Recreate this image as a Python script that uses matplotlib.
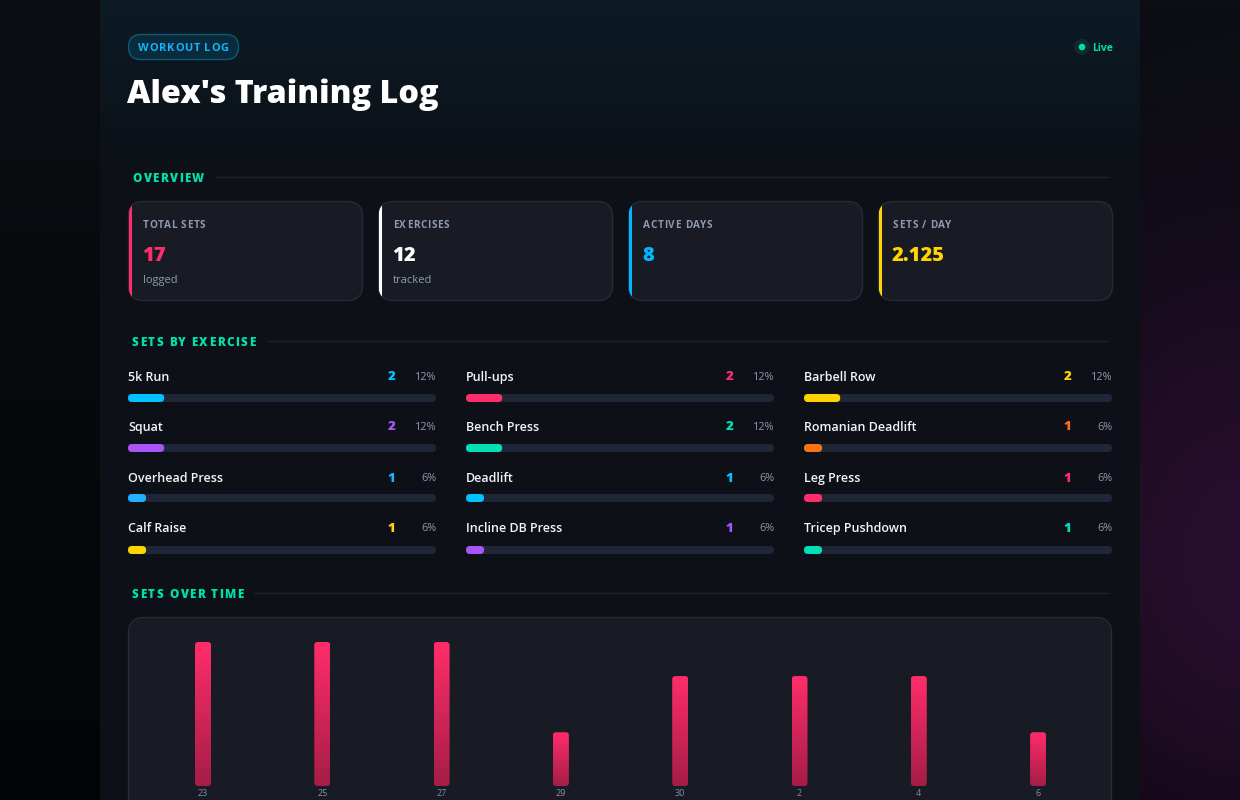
import numpy as np
import matplotlib
matplotlib.use("Agg")
import matplotlib.pyplot as plt
from matplotlib.patches import FancyBboxPatch, Circle
from matplotlib.colors import LinearSegmentedColormap, to_rgb
from matplotlib.font_manager import FontProperties

# ---------------- data ----------------
title = "Alex's Training Log"
badge = "WORKOUT LOG"
live_label = "Live"
section_titles = ["OVERVIEW", "SETS BY EXERCISE", "SETS OVER TIME"]

stat_labels = ["TOTAL SETS", "EXERCISES", "ACTIVE DAYS", "SETS / DAY"]
stat_values = ["17", "12", "8", "2.125"]
stat_subs = ["logged", "tracked", "", ""]
stat_colors = ["#ff2d6b", "#ffffff", "#00b8ff", "#ffd400"]

exercises = ["5k Run", "Pull-ups", "Barbell Row", "Squat", "Bench Press",
             "Romanian Deadlift", "Overhead Press", "Deadlift", "Leg Press",
             "Calf Raise", "Incline DB Press", "Tricep Pushdown"]
exercise_sets = [2, 2, 2, 2, 2, 1, 1, 1, 1, 1, 1, 1]
exercise_colors = ["#00c2ff", "#ff2d6b", "#ffd400", "#a855f7", "#00e0b8",
                   "#f97316", "#22b0ff", "#00c2ff", "#ff2d6b", "#ffd400",
                   "#a855f7", "#00e0b8"]

days = ["23", "25", "27", "29", "30", "2", "4", "6"]
day_sets = [3, 3, 3, 1.12, 2.29, 2.29, 2.29, 1.12]

# ---------------- setup ----------------
W, H = 1240, 800
DPI = 100
FAM = ["Open Sans", "DejaVu Sans"]
plt.rcParams["font.family"] = FAM

fig = plt.figure(figsize=(W / DPI, H / DPI), dpi=DPI)
fig.patch.set_facecolor("#06070b")

# background image
bg = fig.add_axes([0, 0, 1, 1])
bg.set_axis_off()
yy, xx = np.mgrid[0:H, 0:W].astype(float)
img = np.zeros((H, W, 3))
base_top = np.array(to_rgb("#0b0e13"))
base_bot = np.array(to_rgb("#030405"))
t = (yy / H)[..., None]
img[:] = base_top * (1 - t) + base_bot * t
glow = np.exp(-(((xx - 1250) / 260) ** 2 + ((yy - 560) / 330) ** 2))[..., None]
img = img + glow * (np.array(to_rgb("#2a0f30")) - img) * 0.95
panel = (xx >= 100) & (xx < 1140)
ptop = np.array(to_rgb("#0c1b25"))
pbot = np.array(to_rgb("#0d1017"))
pt = np.clip(yy / 170, 0, 1)[..., None]
pcol = ptop * (1 - pt) + pbot * pt
img[panel] = pcol[panel]
bg.imshow(img, extent=(0, W, H, 0), aspect="auto", interpolation="bilinear")
bg.set_xlim(0, W)
bg.set_ylim(H, 0)

ov = fig.add_axes([0, 0, 1, 1])
ov.set_xlim(0, W)
ov.set_ylim(H, 0)
ov.set_axis_off()
ov.patch.set_alpha(0)

renderer = fig.canvas.get_renderer()
DY = 1.5  # vertical text correction


def text_width(s, size, weight="normal"):
    fp = FontProperties(family=FAM, size=size, weight=weight)
    w, h, d = renderer.get_text_width_height_descent(s, fp, ismath=False)
    return w


def spaced(ax, x, y, s, size, color, weight="bold", spacing=1.5):
    for i, ch in enumerate(s):
        off = text_width(s[:i], size, weight) + i * spacing if i else 0
        ax.text(x + off, y + DY, ch, fontsize=size, color=color, weight=weight,
                va="center", ha="left", zorder=5)
    return x + text_width(s, size, weight) + (len(s) - 1) * spacing


def rbox(ax, x, y, w, h, r, fc, ec="none", lw=1, z=2):
    p = FancyBboxPatch((x, y), w, h, boxstyle=f"round,pad=0,rounding_size={r}",
                       fc=fc, ec=ec, lw=lw, zorder=z)
    ax.add_patch(p)
    return p


# ---------------- header ----------------
rbox(ov, 128.5, 34.5, 110, 25, 12.5, "#0a2b3c", "#0f5878", 1)
spaced(ov, 138.5, 47, badge, 7.9, "#14b4ff", weight="bold", spacing=0.75)
ov.text(127, 92 + 2.5, title, fontsize=23.3, color="white", weight="heavy",
        va="center", ha="left")

ov.add_patch(Circle((1082, 47), 8, fc="#0d2a2c", ec="none"))
ov.add_patch(Circle((1082, 47), 3.3, fc="#00e0a8", ec="none"))
ov.text(1092, 47 + DY, live_label, fontsize=7.5, color="#00e0a8", weight="bold",
        va="center", ha="left")

# section headers
sec_y = [177, 341, 593]
for s, y in zip(section_titles, sec_y):
    xe = spaced(ov, 132, y, s, 8.4, "#00e0a8", weight="heavy", spacing=1.45)
    ov.plot([xe + 11, 1108], [y, y], color="#1d2230", lw=1, solid_capstyle="butt")

# ---------------- stat cards ----------------
card_x = [128, 378, 628, 878]
for i, cx in enumerate(card_x):
    p = rbox(ov, cx + 0.5, 201.5, 234, 99, 15, "#181b23", "#272b35", 1)
    ov.plot([cx + 1.5, cx + 1.5], [202, 300], color=stat_colors[i], lw=2.2,
            solid_capstyle="butt", clip_path=p, zorder=3)
    spaced(ov, cx + 15, 223.5, stat_labels[i], 7.2, "#8d9ab0", weight="bold", spacing=0.7)
    ov.text(cx + 14, 254 + DY + 0.5, stat_values[i], fontsize=14.5, color=stat_colors[i],
            weight="heavy", va="center", ha="left", zorder=4)
    if stat_subs[i]:
        ov.text(cx + 15, 279 + DY, stat_subs[i], fontsize=8.0, color="#8d9ab0",
                va="center", ha="left", zorder=4)

# ---------------- exercise bars ----------------
total_sets = sum(exercise_sets)
col_x = [128, 466, 804]
col_w = 308
label_y = [376, 426, 477, 527]
track_y = [398, 448, 498, 550]
pax = []
for cx in col_x:
    a = fig.add_axes([cx / W, (H - 565) / H, col_w / W, 205 / H])
    a.set_xlim(0, 1)
    a.set_ylim(565, 360)
    a.set_axis_off()
    a.patch.set_alpha(0)
    pax.append(a)

for k, (name, v, c) in enumerate(zip(exercises, exercise_sets, exercise_colors)):
    row, col = divmod(k, 3)
    a = pax[col]
    ty = track_y[row]
    frac = v / total_sets
    a.add_patch(FancyBboxPatch((0, ty - 4), 1, 8,
                               boxstyle=f"round,pad=0,rounding_size={4 / col_w}",
                               mutation_aspect=col_w, fc="#1e2638", ec="none"))
    a.add_patch(FancyBboxPatch((0, ty - 4), frac, 8,
                               boxstyle=f"round,pad=0,rounding_size={4 / col_w}",
                               mutation_aspect=col_w, fc=c, ec="none"))
    cx = col_x[col]
    ly = label_y[row] + DY
    ov.text(cx, ly, name, fontsize=9.0, color="#f2f4f8", weight="semibold",
            va="center", ha="left")
    ov.text(cx + 267, ly, f"{v}", fontsize=9.6, color=c, weight="heavy",
            va="center", ha="right")
    ov.text(cx + col_w, ly, f"{round(100 * v / total_sets)}%", fontsize=7.8,
            color="#8d9ab0", va="center", ha="right")

# ---------------- sets over time ----------------
rbox(ov, 128.5, 617.5, 983, 220, 16, "#181b23", "#272b35", 1)

x_step = 119.3
px_unit = 48.0
left_c = 203
bx = fig.add_axes([(left_c - x_step / 2) / W, (H - 786) / H,
                   8 * x_step / W, (786 - 620) / H])
bx.patch.set_alpha(0)
for sp in bx.spines.values():
    sp.set_visible(False)
bx.set_yticks([])
bw = 16 / x_step
bars = bx.bar(np.arange(len(days)), day_sets, width=bw, color="none")
grad = np.linspace(0, 1, 256).reshape(-1, 1)
cmap = LinearSegmentedColormap.from_list("g", ["#a51d47", "#ff2d6b"])
for b in bars:
    x0, y0, w, h = b.get_x(), b.get_y(), b.get_width(), b.get_height()
    p = FancyBboxPatch((x0, y0), w, h,
                       boxstyle=f"round,pad=0,rounding_size={3 / x_step}",
                       mutation_aspect=x_step / px_unit, fc="none", ec="none")
    bx.add_patch(p)
    im = bx.imshow(grad, extent=(x0, x0 + w, y0, y0 + h), origin="lower",
                   cmap=cmap, aspect="auto", interpolation="bilinear")
    im.set_clip_path(p)
bx.set_xlim(-0.5, len(days) - 0.5)
bx.set_ylim(0, (786 - 620) / px_unit)
bx.set_xticks(np.arange(len(days)), days)
bx.tick_params(axis="x", length=0, pad=2.0, labelsize=6.5, labelcolor="#8090a8")

fig.savefig("out.png", dpi=DPI, facecolor=fig.get_facecolor())
